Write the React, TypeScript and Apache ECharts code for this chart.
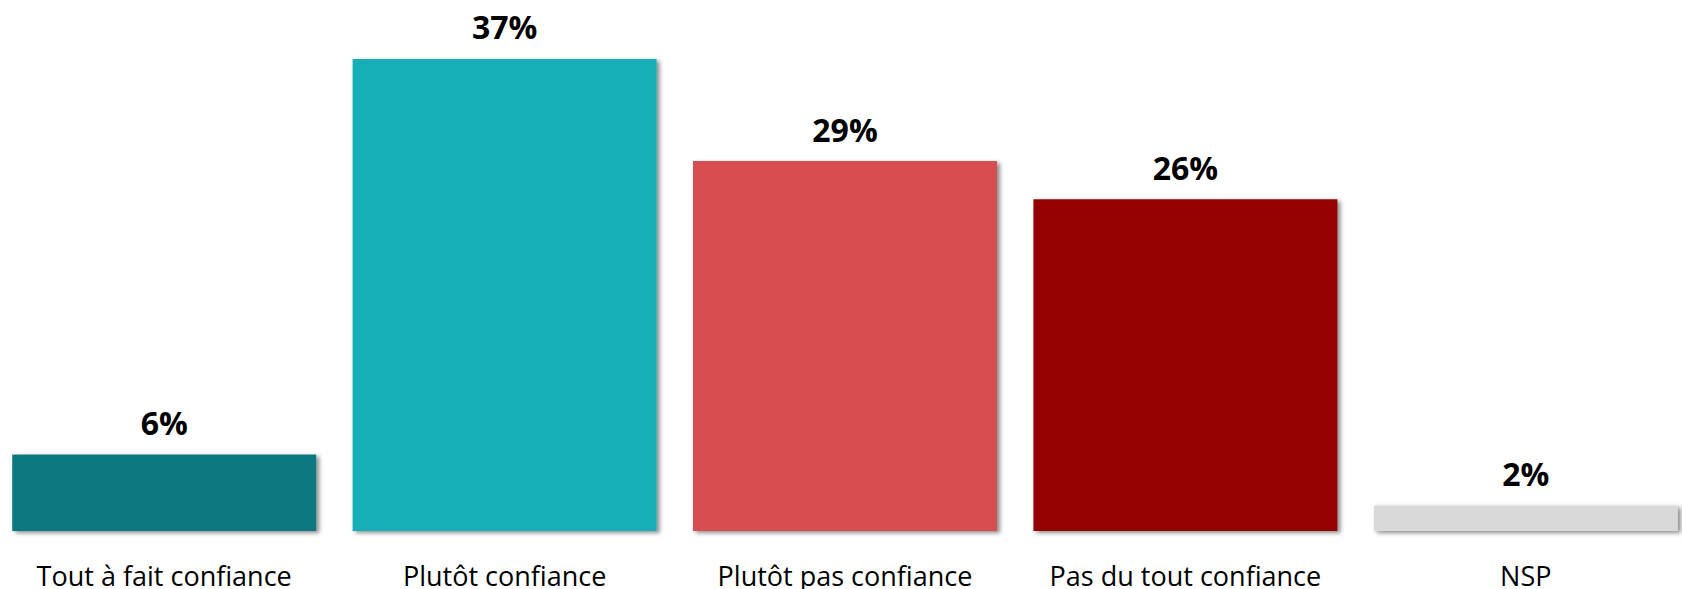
import React, { useEffect, useRef } from "react";
import * as echarts from "echarts";

const categories = [
  "Tout à fait confiance",
  "Plutôt confiance",
  "Plutôt pas confiance",
  "Pas du tout confiance",
  "NSP",
];
const values = [6, 37, 29, 26, 2];
const colors = ["#107880", "#13AFB7", "#D84E4F", "#950000", "#D9D9D9"];

export default function App() {
  const ref = useRef<HTMLDivElement>(null);
  useEffect(() => {
    document.body.style.margin = "0";
    const chart = echarts.init(ref.current!, null, { renderer: "svg" });
    chart.setOption({
      animation: false,
      grid: {
        left: -6,
        right: -14,
        top: 20.7,
        bottom: 58,
        containLabel: false,
        outerBoundsMode: "none",
      },
      xAxis: {
        type: "category",
        data: categories,
        axisLine: { show: false },
        axisTick: { show: false },
        axisLabel: {
          interval: 0,
          margin: 31,
          fontFamily: "Open Sans",
          fontSize: 27,
          lineHeight: 27,
          color: "#000",
        },
      },
      yAxis: {
        type: "value",
        min: 0,
        max: 40,
        show: false,
        splitLine: { show: false },
      },
      series: [
        {
          type: "bar",
          barCategoryGap: "10.7%",
          data: values.map((v, i) => ({
            value: v,
            itemStyle: {
              color: colors[i],
              shadowColor: "rgba(0,0,0,0.45)",
              shadowBlur: 4,
              shadowOffsetX: 3,
              shadowOffsetY: 2,
            },
          })),
          label: {
            show: true,
            position: "top",
            distance: 16,
            formatter: "{c}%",
            fontFamily: "Open Sans",
            fontWeight: "bold",
            fontSize: 32,
            color: "#000",
          },
        },
      ],
    });
    return () => chart.dispose();
  }, []);
  return <div ref={ref} style={{ width: 1682, height: 589, background: "#fff" }} />;
}
